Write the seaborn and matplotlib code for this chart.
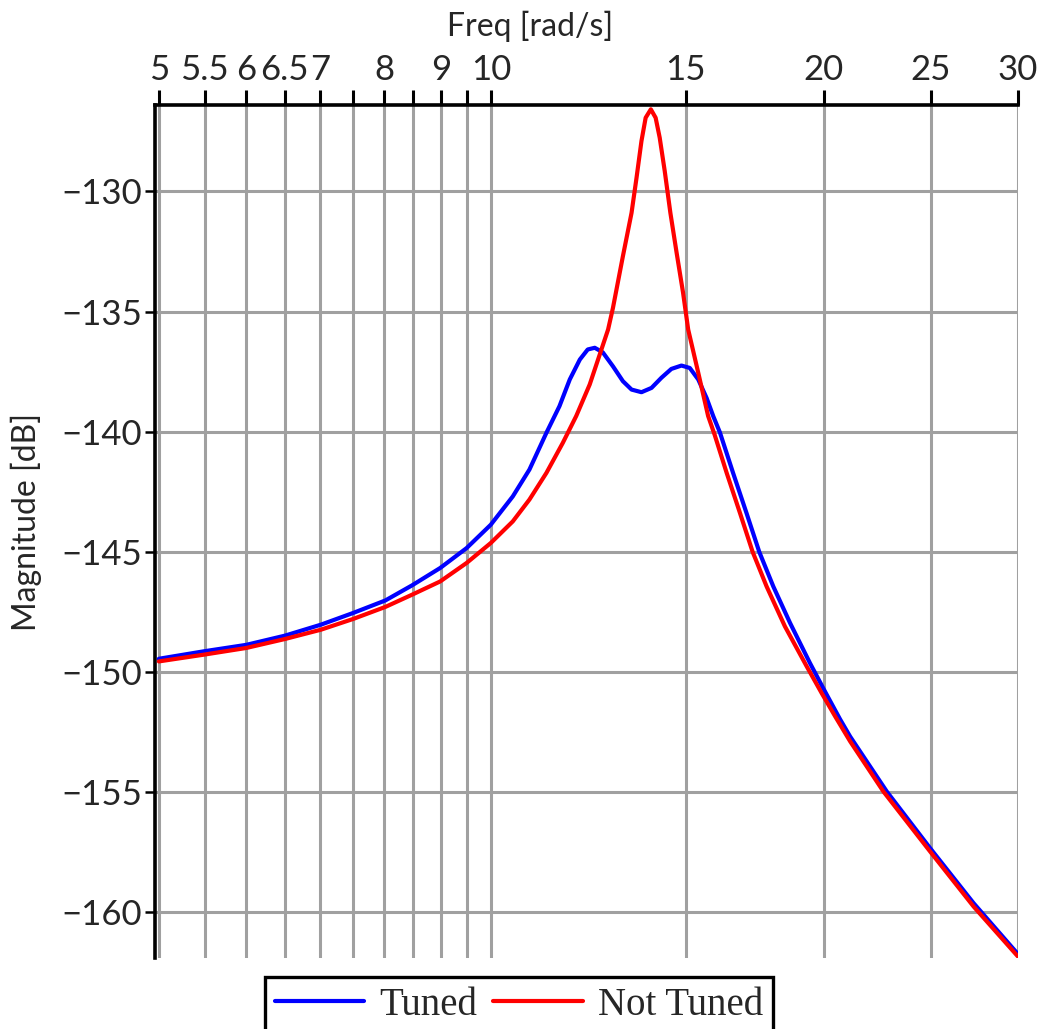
import numpy as np
import pandas as pd
import matplotlib
matplotlib.use("Agg")
import matplotlib.pyplot as plt
import seaborn as sns
from matplotlib.ticker import FixedLocator, NullFormatter, FixedFormatter

# ---- data ----
tuned_freq = [5.00, 5.49, 6.00, 6.50, 7.01, 7.50, 8.02, 8.48, 8.99, 9.50, 9.99,
              10.46, 10.83, 11.22, 11.53, 11.78, 12.03, 12.23, 12.41, 12.62, 12.89,
              13.16, 13.40, 13.68, 13.97, 14.26, 14.56, 14.87, 15.13, 15.40, 15.67,
              15.89, 16.11, 16.56, 17.03, 17.49, 18.01, 18.65, 19.44, 20.02, 20.70,
              21.14, 22.82, 24.98, 27.35, 30.00]
tuned_db = [-149.46, -149.15, -148.88, -148.50, -148.04, -147.55, -147.03, -146.40,
            -145.68, -144.85, -143.88, -142.70, -141.58, -140.05, -138.94, -137.83,
            -137.00, -136.58, -136.51, -136.70, -137.28, -137.90, -138.25, -138.36,
            -138.18, -137.76, -137.39, -137.25, -137.35, -137.83, -138.60, -139.36,
            -140.03, -141.72, -143.39, -145.01, -146.45, -147.97, -149.64, -150.75,
            -151.98, -152.70, -154.99, -157.35, -159.64, -161.76]

not_tuned_freq = [5.00, 5.49, 6.00, 6.50, 7.01, 7.50, 8.02, 8.48, 8.99, 9.50, 9.99,
                  10.46, 10.83, 11.22, 11.61, 11.94, 12.28, 12.54, 12.76, 12.89, 13.16,
                  13.40, 13.54, 13.68, 13.80, 13.95, 14.09, 14.21, 14.36, 14.53, 14.72,
                  14.92, 15.08, 15.40, 15.72, 15.94, 16.34, 16.80, 17.25, 17.76, 18.45,
                  19.31, 19.92, 20.49, 21.14, 22.66, 24.98, 27.35, 30.00]
not_tuned_db = [-149.57, -149.29, -149.01, -148.64, -148.25, -147.80, -147.30, -146.79,
                -146.24, -145.47, -144.64, -143.74, -142.83, -141.72, -140.47, -139.35,
                -138.04, -136.79, -135.75, -134.85, -132.70, -130.89, -129.43, -127.90,
                -126.93, -126.58, -126.93, -127.76, -129.15, -130.89, -132.55, -134.22,
                -135.75, -137.55, -139.35, -140.15, -141.72, -143.39, -145.01, -146.45,
                -148.11, -149.78, -150.89, -151.86, -152.90, -154.99, -157.49, -159.78,
                -161.86]

series_names = ["Tuned", "Not Tuned"]
series_colors = ["#0000ff", "#ff0000"]

xtick_major = [5, 5.5, 6, 6.5, 7, 8, 9, 10, 15, 20, 25, 30]
xtick_labels = ["5", "5.5", "6", "6.5", "7", "8", "9", "10", "15", "20", "25", "30"]
xtick_minor = [7.5, 8.5, 9.5]
ytick_vals = [-160, -155, -150, -145, -140, -135, -130]
ytick_labels = ["\u2212160", "\u2212155", "\u2212150", "\u2212145", "\u2212140", "\u2212135", "\u2212130"]

df = pd.concat([
    pd.DataFrame({"freq": tuned_freq, "mag": tuned_db, "series": series_names[0]}),
    pd.DataFrame({"freq": not_tuned_freq, "mag": not_tuned_db, "series": series_names[1]}),
], ignore_index=True)

# ---- style ----
sns.set_style("white")
plt.rcParams["font.family"] = ["Lato", "DejaVu Sans"]

fig = plt.figure(figsize=(10.42, 10.29), dpi=100)
ax = fig.add_axes([155 / 1042, 1 - 958 / 1029, (1018 - 155) / 1042, (958 - 105) / 1029])

sns.lineplot(data=df, x="freq", y="mag", hue="series", hue_order=series_names,
             palette=series_colors, linewidth=3.0, estimator=None, sort=True,
             ax=ax, legend=True, zorder=3)

ax.set_xscale("log")
ax.set_xlim(4.96, 30)
ax.set_ylim(-161.92, -126.4)

ax.xaxis.set_major_locator(FixedLocator(xtick_major))
ax.xaxis.set_major_formatter(FixedFormatter(xtick_labels))
ax.xaxis.set_minor_locator(FixedLocator(xtick_minor))
ax.xaxis.set_minor_formatter(NullFormatter())
ax.set_yticks(ytick_vals)
ax.set_yticklabels(ytick_labels)

ax.xaxis.tick_top()
ax.xaxis.set_label_position("top")
ax.tick_params(axis="x", which="both", direction="out", length=11, width=2.2,
               color="black", labelsize=25, pad=3, top=True, bottom=False)
ax.tick_params(axis="y", which="major", direction="out", length=7, width=1.8,
               color="black", labelsize=25, pad=2, left=True)

ax.grid(True, which="both", axis="x", color="#a0a0a0", linewidth=2.2, zorder=0)
ax.grid(True, which="major", axis="y", color="#a0a0a0", linewidth=2.2, zorder=0)
ax.set_axisbelow(True)

for side in ["right", "bottom"]:
    ax.spines[side].set_visible(False)
for side in ["top", "left"]:
    ax.spines[side].set_visible(True)
    ax.spines[side].set_color("black")
    ax.spines[side].set_linewidth(2.6)

ax.set_xlabel("Freq [rad/s]", fontsize=23)
ax.set_ylabel("Magnitude [dB]", fontsize=23)
ax.xaxis.set_label_coords((530 - 155) / 863, (958 - 36) / 853)
ax.yaxis.set_label_coords((42 - 155) / 863, (958 - 522) / 853)

handles, labels = ax.get_legend_handles_labels()
leg = ax.legend(handles, labels, loc="upper center", ncol=2,
                bbox_to_anchor=(519 / 1042, 1 - 977 / 1029),
                bbox_transform=fig.transFigure,
                prop={"family": "Liberation Serif", "size": 28},
                frameon=True, fancybox=False, framealpha=1, edgecolor="black",
                handlelength=2.3, handletextpad=0.4, columnspacing=0.4,
                borderpad=0.25, borderaxespad=0)
leg.get_frame().set_linewidth(2.4)
for line in leg.get_lines():
    line.set_linewidth(3.0)

fig.savefig("out.png", dpi=100)
